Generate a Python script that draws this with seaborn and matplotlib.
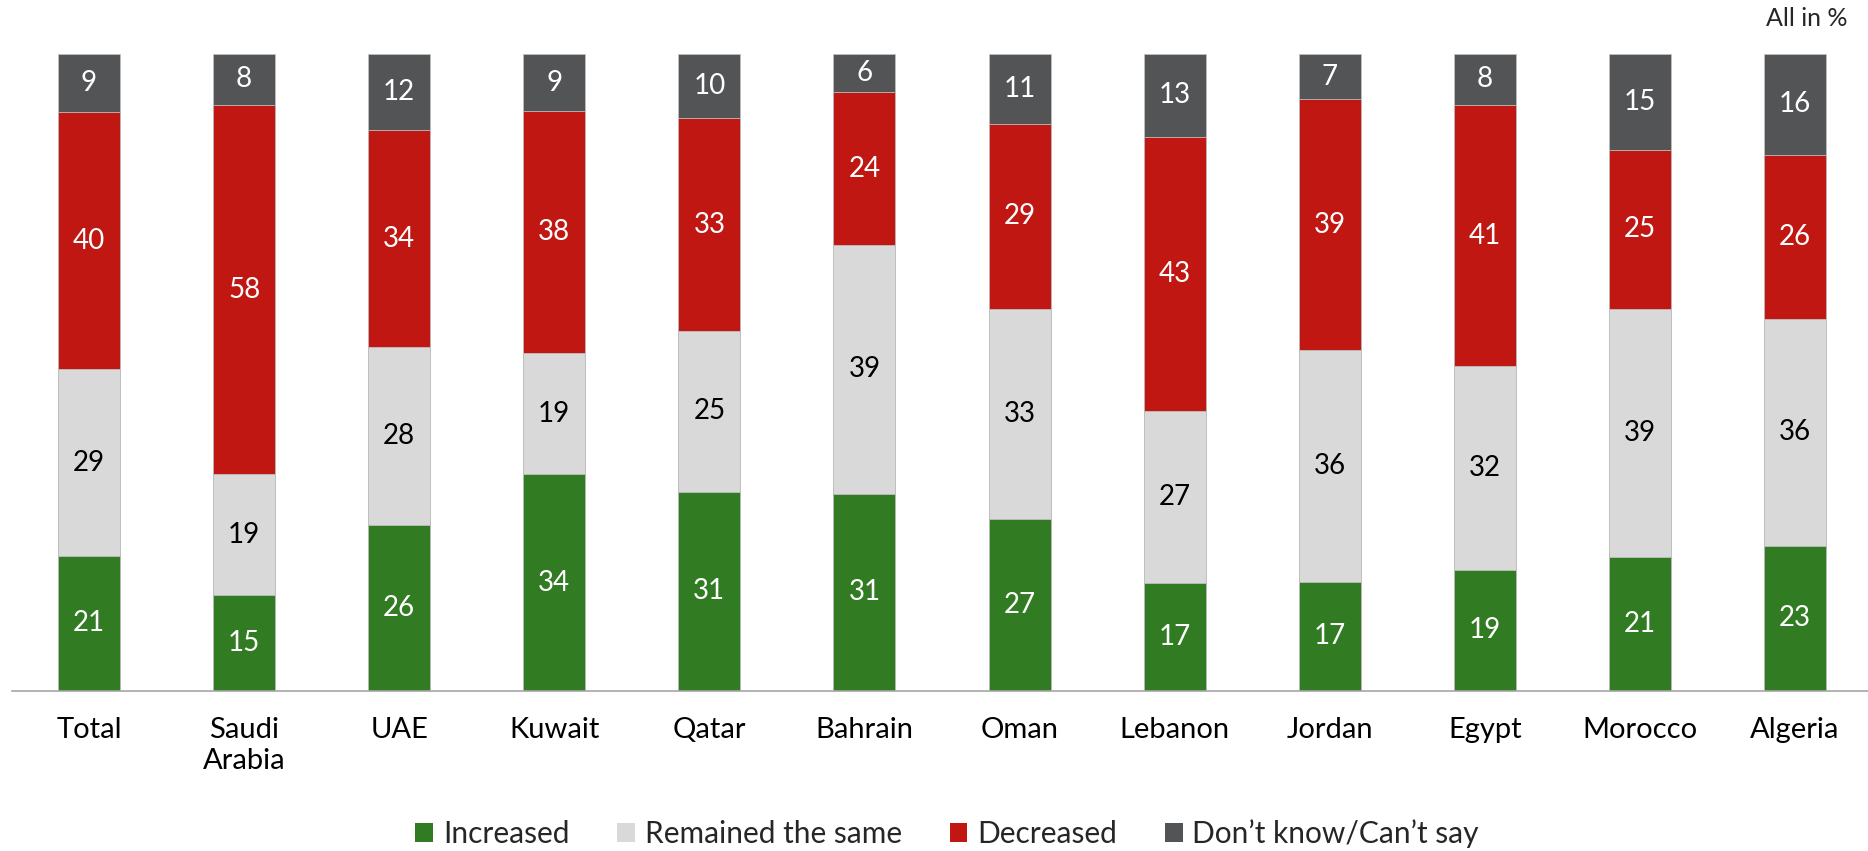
import numpy as np
import pandas as pd
import matplotlib
matplotlib.use("Agg")
import matplotlib.pyplot as plt
from matplotlib.patches import Patch
import seaborn as sns

categories = ["Total", "Saudi\nArabia", "UAE", "Kuwait", "Qatar", "Bahrain", "Oman",
              "Lebanon", "Jordan", "Egypt", "Morocco", "Algeria"]
increased = [21, 15, 26, 34, 31, 31, 27, 17, 17, 19, 21, 23]
remained = [29, 19, 28, 19, 25, 39, 33, 27, 36, 32, 39, 36]
decreased = [40, 58, 34, 38, 33, 24, 29, 43, 39, 41, 25, 26]
dont_know = [9, 8, 12, 9, 10, 6, 11, 13, 7, 8, 15, 16]
series_names = ["Increased", "Remained the same", "Decreased", "Don\u2019t know/Can\u2019t say"]
colors = ["#317B22", "#D9D9D9", "#C01712", "#535456"]
text_colors = ["white", "black", "white", "white"]

sns.set_theme(style="white")
plt.rcParams["font.family"] = ["Lato", "DejaVu Sans"]

vals = np.array([increased, remained, decreased, dont_know], dtype=float)
share = vals / vals.sum(axis=0) * 100
cum = np.cumsum(share, axis=0)

fig = plt.figure(figsize=(18.68, 8.51), dpi=100)
ax = fig.add_axes([11.5 / 1868, 160 / 851, (1872.5 - 11.5) / 1868, 637 / 851])

# draw cumulative layers from top to bottom so they stack visually
for i in range(3, -1, -1):
    df = pd.DataFrame({"cat": categories, "val": cum[i]})
    sns.barplot(data=df, x="cat", y="val", color=colors[i], width=0.4,
                saturation=1, ax=ax, edgecolor="#BFBFBF", linewidth=0.6)

for i in range(4):
    for j in range(len(categories)):
        y = cum[i, j] - share[i, j] / 2
        ax.text(j, y, f"{int(vals[i, j])}", ha="center", va="center",
                fontsize=20, color=text_colors[i])

ax.set_xlim(-0.5, len(categories) - 0.5)
ax.set_ylim(0, 100)
ax.set_xlabel("")
ax.set_ylabel("")
ax.set_yticks([])
for s in ["top", "right", "left"]:
    ax.spines[s].set_visible(False)
ax.spines["bottom"].set_color("#A6A6A6")
ax.spines["bottom"].set_linewidth(1.2)
ax.set_xticks(np.arange(-0.5, len(categories)), minor=True)
ax.tick_params(axis="x", which="minor", length=10, width=1.2, color="#A6A6A6", direction="out")
ax.tick_params(axis="x", which="major", length=0, pad=19, labelsize=21, labelcolor="black")

handles = [Patch(facecolor=c, edgecolor="none") for c in colors]
fig.legend(handles, series_names, loc="center", bbox_to_anchor=(947 / 1868, 1 - 834 / 851),
           ncol=4, frameon=False, fontsize=21.5, handlelength=0.6, handleheight=0.6,
           handletextpad=0.32, columnspacing=1.6)

fig.text(1807 / 1868, 1 - 19 / 851, "All in %", ha="center", va="center", fontsize=18)

fig.savefig("out.png", dpi=100)
